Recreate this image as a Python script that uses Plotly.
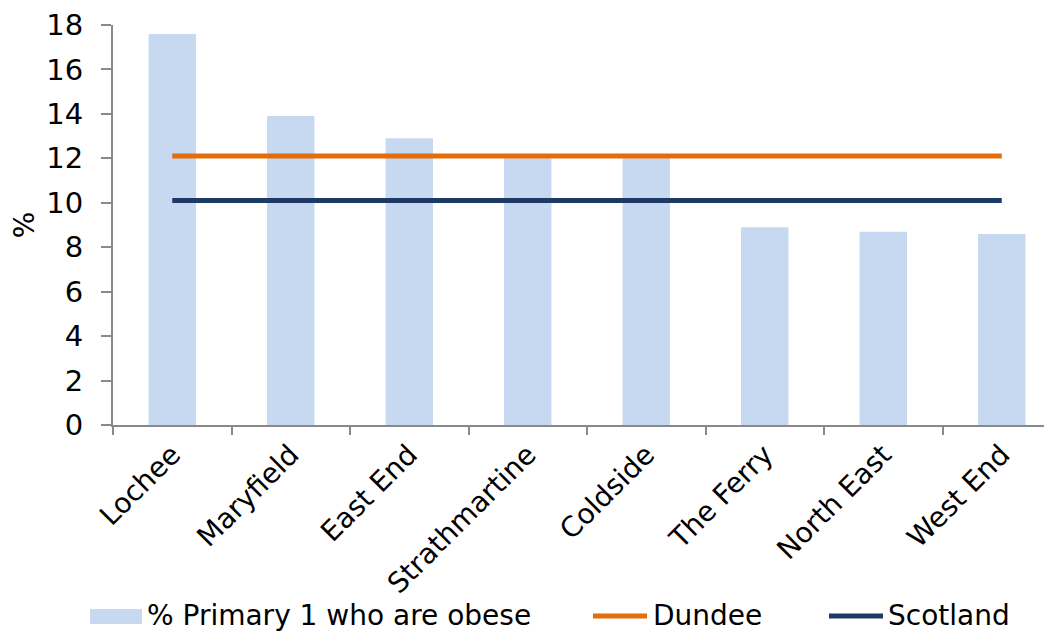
import plotly.graph_objects as go

categories = ["Lochee", "Maryfield", "East End", "Strathmartine", "Coldside",
              "The Ferry", "North East", "West End"]
obese_pct = [17.6, 13.9, 12.9, 12.0, 12.0, 8.9, 8.7, 8.6]
dundee = [12.1] * len(categories)
scotland = [10.1] * len(categories)

series_names = ["% Primary 1 who are obese", "Dundee", "Scotland"]
BAR_C, DUN_C, SCO_C = "#C6D9F1", "#E46C0A", "#1C3A64"

FONT = "'DejaVu Sans', sans-serif"
W, H = 1053, 636
L, R, T, B = 105, 0, 17, 219
PW, PH = W - L - R, H - T - B


def px(X):
    return (X - L) / PW


def py(Y):
    return (H - B - Y) / PH


fig = go.Figure()
fig.add_trace(go.Bar(x=categories, y=obese_pct, name=series_names[0],
                     marker=dict(color=BAR_C, line=dict(width=0)), width=0.4))
fig.add_trace(go.Scatter(x=categories, y=dundee, name=series_names[1], mode="lines",
                         line=dict(color=DUN_C, width=5)))
fig.add_trace(go.Scatter(x=categories, y=scotland, name=series_names[2], mode="lines",
                         line=dict(color=SCO_C, width=5)))

# custom legend (figure pixel positions)
shapes = [
    dict(type="rect", xref="paper", yref="paper", x0=px(82), x1=px(134),
         y0=py(616), y1=py(601), fillcolor=BAR_C, line=dict(width=0)),
    dict(type="line", xref="paper", yref="paper", x0=px(585), x1=px(639),
         y0=py(608), y1=py(608), line=dict(color=DUN_C, width=5)),
    dict(type="line", xref="paper", yref="paper", x0=px(821), x1=px(875),
         y0=py(608), y1=py(608), line=dict(color=SCO_C, width=5)),
]
annos = []
for name, x in zip(series_names, [137, 643, 878]):
    annos.append(dict(text=name, xref="paper", yref="paper", x=px(x), y=py(626),
                      xanchor="left", yanchor="bottom", showarrow=False,
                      font=dict(size=28, family=FONT, color="#000")))

fig.update_layout(
    width=W, height=H,
    margin=dict(l=L, r=R, t=T, b=B, autoexpand=False),
    paper_bgcolor="white", plot_bgcolor="white",
    font=dict(family=FONT, size=24, color="#000"),
    showlegend=False,
    shapes=shapes, annotations=annos,
)
fig.update_xaxes(showline=True, linecolor="#898989", linewidth=2, automargin=False,
                 ticks="outside", tickson="boundaries", ticklen=8, tickcolor="#898989",
                 tickwidth=2, tickangle=-45, tickfont=dict(size=28), showgrid=False)
fig.update_yaxes(range=[0, 18], dtick=2, showline=True, linecolor="#898989", linewidth=2,
                 automargin=False, ticklabelstandoff=12,
                 ticks="outside", ticklen=10, tickcolor="#898989", tickwidth=2,
                 showgrid=False, zeroline=False, tickfont=dict(size=29),
                 title=dict(text="%", font=dict(size=28), standoff=24))

fig.write_html("out.html")
